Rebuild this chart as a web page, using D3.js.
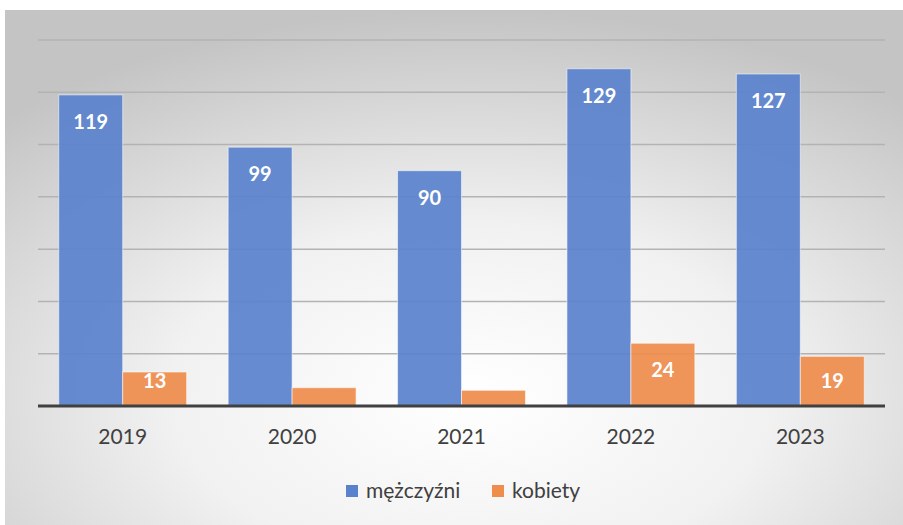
<!DOCTYPE html>
<html>
<head>
<meta charset="utf-8">
<script src="https://cdn.jsdelivr.net/npm/d3@7"></script>
<style>
  body { margin: 0; background: #fff; }
  text { font-family: Lato, "Open Sans", sans-serif; }
</style>
</head>
<body>
<div id="chart"></div>
<script>
// data
var years = ["2019", "2020", "2021", "2022", "2023"];
var series = ["mężczyźni", "kobiety"];
var men = [119, 99, 90, 129, 127];
var women = [13, 7, 6, 24, 19];
var yTicks = [0, 20, 40, 60, 80, 100, 120, 140];

var colors = { "mężczyźni": "#5a82cc", "kobiety": "#ee8d4c" };

var svgWidth = 903, svgHeight = 525;

var svg = d3.select("#chart")
  .append("svg")
  .attr("width", svgWidth)
  .attr("height", svgHeight);

// background with radial gradient like the office chart
var defs = svg.append("defs");
var grad = defs.append("radialGradient")
  .attr("id", "bg")
  .attr("cx", "52%").attr("cy", "75%")
  .attr("r", "75%");
grad.append("stop").attr("offset", "0%").attr("stop-color", "#ffffff");
grad.append("stop").attr("offset", "45%").attr("stop-color", "#f1f1f1");
grad.append("stop").attr("offset", "100%").attr("stop-color", "#c4c4c4");

svg.append("rect")
  .attr("x", 5).attr("y", 10)
  .attr("width", svgWidth - 5).attr("height", svgHeight - 10)
  .attr("fill", "url(#bg)");

var plot = { left: 38, right: 885, top: 40, bottom: 406 };

var x0 = d3.scaleBand()
  .domain(years)
  .range([plot.left, plot.right])
  .paddingInner(0.245)
  .paddingOuter(0.1225);

var x1 = d3.scaleBand()
  .domain(series)
  .range([0, x0.bandwidth()]);

var y = d3.scaleLinear()
  .domain([0, 140])
  .range([plot.bottom, plot.top]);

// gridlines
svg.append("g")
  .selectAll("line")
  .data(yTicks.slice(1))
  .enter()
  .append("line")
  .attr("x1", plot.left)
  .attr("x2", plot.right)
  .attr("y1", d => y(d))
  .attr("y2", d => y(d))
  .attr("stroke", "#b3b3b3")
  .attr("stroke-width", 1.5);

var rows = [];
years.forEach(function(yr, i) {
  rows.push({ year: yr, key: "mężczyźni", value: men[i] });
  rows.push({ year: yr, key: "kobiety", value: women[i] });
});

// bars
svg.append("g")
  .selectAll("rect")
  .data(rows)
  .enter()
  .append("rect")
  .attr("x", d => x0(d.year) + x1(d.key))
  .attr("y", d => y(d.value))
  .attr("width", x1.bandwidth())
  .attr("height", d => y(0) - y(d.value))
  .attr("fill", d => colors[d.key])
  .attr("fill-opacity", 0.93)
  .attr("stroke", "rgba(255,255,255,0.55)")
  .attr("stroke-width", 1);

// value labels inside the bar end (small bars are left without label)
svg.append("g")
  .selectAll("text")
  .data(rows.filter(d => y(0) - y(d.value) > 25))
  .enter()
  .append("text")
  .attr("x", d => x0(d.year) + x1(d.key) + x1.bandwidth() / 2)
  .attr("y", d => Math.min(y(d.value) + 27, 381))
  .attr("dy", "0.35em")
  .attr("text-anchor", "middle")
  .attr("fill", "#ffffff")
  .attr("font-weight", "bold")
  .attr("font-size", "20px")
  .text(d => d.value);

// x axis
var xAxis = d3.axisBottom(x0).tickSize(0).tickPadding(0);
var gx = svg.append("g")
  .attr("transform", `translate(0, ${plot.bottom})`)
  .call(xAxis);
gx.select(".domain").remove();
gx.selectAll("text")
  .attr("y", 31)
  .attr("dy", "0.35em")
  .attr("font-size", "21px")
  .attr("font-family", "Lato, 'Open Sans', sans-serif")
  .attr("fill", "#404040");

svg.append("line")
  .attr("x1", plot.left)
  .attr("x2", plot.right)
  .attr("y1", y(0))
  .attr("y2", y(0))
  .attr("stroke", "#404040")
  .attr("stroke-width", 3);

// legend
var legendPos = [346, 492];
var legend = svg.append("g")
  .selectAll("g")
  .data(series)
  .enter()
  .append("g")
  .attr("transform", (d, i) => `translate(${legendPos[i]}, 491)`);
legend.append("rect")
  .attr("x", 0).attr("y", -6)
  .attr("width", 12).attr("height", 12)
  .attr("fill", d => colors[d]);
legend.append("text")
  .attr("x", 20)
  .attr("dy", "0.35em")
  .attr("font-size", "21px")
  .attr("fill", "#404040")
  .text(d => d);
</script>
</body>
</html>
